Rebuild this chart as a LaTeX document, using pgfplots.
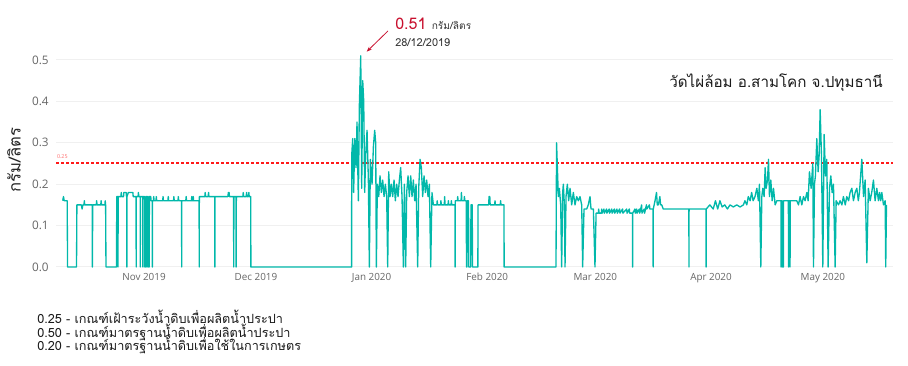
\documentclass[border=0pt]{standalone}
\usepackage{pgfplots}
\pgfplotsset{compat=1.18}
\usetikzlibrary{arrows.meta}
\usepackage{fontspec}
\setmainfont{Open Sans}
\newfontfamily\thaifont[Script=Thai]{Loma}
\definecolor{pbteal}{HTML}{01B8AA}
\definecolor{pbred}{HTML}{FF1A1A}
\definecolor{annred}{HTML}{C8102E}
\definecolor{tickgray}{HTML}{666666}
\begin{document}
\begin{tikzpicture}[x=1pt,y=1pt]
\path[use as bounding box] (0,0) rectangle (681,274.5);
\begin{axis}[
  at={(42pt,74.25pt)}, anchor=south west,
  scale only axis, width=627.75pt, height=161.5pt,
  xmin=-23.6, xmax=200.8, ymin=0, ymax=0.52,
  clip=false,
  axis line style={draw=none},
  major tick length=0pt,
  xtick={0,30,61,92,121,152,182},
  xticklabels={Nov 2019,Dec 2019,Jan 2020,Feb 2020,Mar 2020,Apr 2020,May 2020},
  ytick={0,0.1,0.2,0.3,0.4,0.5},
  /pgf/number format/assume math mode=true,
  ticklabel style={text=tickgray},
  xticklabel style={font=\fontsize{7.4}{8}\selectfont, yshift=-1pt},
  yticklabel style={font=\fontsize{8.8}{9}\selectfont, xshift=-2pt, /pgf/number format/.cd,fixed,fixed zerofill,precision=1},
  ymajorgrids,
  grid style={color=black!6, line width=0.75pt},
]
\addplot[pbred, line width=1.5pt, dash pattern=on 2.25pt off 1.5pt] coordinates {(-23.6,0.25) (200.8,0.25)};
\addplot[pbteal, line width=1pt, line join=round] table {
x y
-21.8 0.16
-21.6 0.17
-21.4 0.16
-20.6 0.16
-20.5 0
-18.1 0
-18.0 0.15
-16.8 0.15
-16.6 0.14
-16.4 0.15
-16.1 0.15
-16.0 0.16
-15.9 0.15
-13.9 0.15
-13.85 0
-13.75 0.15
-12.8 0.15
-12.7 0.16
-12.6 0.15
-11.6 0.15
-11.5 0.16
-11.4 0.15
-10.5 0.15
-10.4 0.16
-10.3 0.15
-10.2 0
-7.4 0
-7.3 0.17
-7.0 0.17
-6.97 0
-6.94 0.17
-6.2 0.17
-6.1 0.18
-6.0 0.17
-5.5 0.17
-5.4 0.18
-4.8 0.18
-4.7 0.17
-4.63 0.17
-4.6 0
-4.57 0.17
-4.2 0.18
-3.6 0.18
-3.0 0.18
-2.9 0.17
-2.13 0.17
-2.1 0
-2.07 0.17
-1.6 0.17
-1.5 0.18
-1.4 0.17
-1.03 0.17
-1.0 0
-0.97 0.17
-0.33 0.17
-0.3 0
-0.27 0.17
0.17 0.17
0.2 0
0.4 0
0.43 0.17
0.57 0.17
0.6 0
0.63 0.17
0.97 0.17
1.0 0
1.2 0
1.23 0.17
1.37 0.17
1.4 0
1.43 0.17
1.8 0.17
1.9 0.16
2.2 0.16
2.23 0
2.26 0.16
2.5 0.16
2.6 0.17
2.7 0.16
3.2 0.16
3.3 0.17
3.4 0.16
5.0 0.16
5.1 0.17
5.2 0.16
6.4 0.16
6.5 0.17
6.6 0.16
7.9 0.16
8.0 0.17
8.1 0.16
9.1 0.16
9.2 0.17
9.3 0.16
10.07 0.16
10.1 0
10.13 0.16
11.2 0.16
11.3 0.17
11.4 0.16
12.7 0.16
12.8 0.17
12.9 0.16
13.1 0.16
13.2 0.17
13.3 0.16
14.77 0.16
14.8 0
14.83 0.17
16.3 0.17
16.4 0.18
16.5 0.17
17.2 0.17
17.3 0.18
17.4 0.17
18.97 0.17
19.0 0
19.03 0.17
22.5 0.17
22.6 0.18
22.8 0.18
22.9 0.17
24.0 0.17
24.05 0
24.1 0.17
24.65 0.17
24.7 0
24.75 0.17
26.5 0.17
26.6 0.18
26.7 0.17
27.4 0.17
27.5 0.18
27.6 0.17
28.0 0.17
28.1 0.18
28.2 0.17
28.6 0.17
28.65 0
55.65 0
55.68 0.27
55.95 0.31
56.2 0.18
56.5 0.31
56.84 0.24
57.1 0.35
57.46 0.16
57.73 0.39
58.1 0.51
58.36 0.19
58.63 0.45
58.9 0.40
59.16 0.18
59.43 0.27
59.79 0.33
60.15 0.21
60.41 0
60.68 0.26
61.13 0.20
61.49 0.29
61.84 0.33
62.11 0.30
62.29 0
62.56 0.20
62.92 0.17
63.27 0.22
63.63 0.18
63.99 0.21
64.35 0.17
64.7 0.20
65.06 0.17
65.33 0
65.6 0.23
65.95 0.17
66.3 0.20
66.67 0.17
67.03 0.21
67.38 0.16
67.74 0.20
68.1 0.17
68.46 0.21
68.81 0.24
69.17 0.17
69.53 0
69.8 0.20
70.15 0
70.42 0.18
70.78 0.22
71.14 0.17
71.5 0.22
71.85 0.17
72.21 0.21
72.57 0.16
72.93 0.20
73.37 0
73.64 0.19
74.0 0.26
74.35 0.24
74.71 0.17
75.07 0.22
75.43 0.18
75.78 0.21
76.14 0.17
76.5 0.20
76.86 0
77.2 0.18
77.57 0.15
78.5 0.15
78.6 0.16
78.7 0.15
79.5 0.15
79.6 0.16
79.7 0.15
80.5 0.15
80.6 0.17
80.7 0.15
81.5 0.15
81.6 0.16
81.7 0.15
82.3 0.15
82.4 0.16
82.5 0.15
83.35 0.15
83.4 0
83.45 0.16
84.0 0.16
84.1 0.17
84.2 0.16
85.0 0.16
85.1 0.18
85.2 0.16
85.8 0.16
85.9 0.17
86.0 0.16
86.4 0.16
86.45 0
86.6 0
86.65 0.16
87.0 0.16
87.05 0
87.6 0
87.65 0.15
88.0 0.15
88.05 0
89.5 0
89.55 0.15
92.4 0.15
92.5 0.17
92.7 0.17
92.8 0.15
94.0 0.15
94.1 0.16
94.2 0.15
95.5 0.15
95.6 0.16
95.7 0.15
96.5 0.15
96.55 0
110.45 0
110.6 0.30
111.08 0.17
111.35 0.19
111.71 0.15
111.97 0
112.24 0.18
112.42 0.20
112.69 0.15
112.87 0
113.14 0.17
113.49 0.20
113.85 0.16
114.21 0.19
114.66 0.15
115.1 0.18
115.55 0.15
116.0 0.17
116.44 0.16
116.89 0.17
117.34 0.15
117.6 0
117.96 0.14
118.68 0.14
119.1 0.15
119.57 0.17
119.84 0.14
120.47 0.14
120.9 0
121.2 0.13
121.8 0.13
121.9 0.14
122.0 0.13
122.6 0.13
122.7 0.14
122.8 0.13
123.3 0.14
123.4 0.13
124.0 0.14
124.1 0.13
124.7 0.14
124.8 0.13
125.4 0.14
125.5 0.13
126.1 0.14
126.2 0.13
126.8 0.14
126.9 0.13
127.5 0.14
127.6 0.13
128.3 0.14
128.4 0.13
129.4 0.14
129.5 0.13
130.1 0.14
130.2 0.13
130.97 0.13
131.0 0
131.03 0.13
131.6 0.14
131.7 0.13
132.1 0.14
132.2 0.13
132.8 0.14
132.9 0.13
133.4 0.15
133.5 0.13
134.1 0.14
134.2 0.13
134.7 0.15
134.8 0.14
135.5 0.15
135.6 0.14
136.47 0.14
136.5 0
136.53 0.14
137.0 0.16
137.4 0.18
137.6 0.15
137.9 0.15
138.3 0.17
138.5 0.15
138.8 0.15
139.2 0.14
146.07 0.14
146.1 0
146.13 0.14
150.67 0.14
150.7 0
150.73 0.14
151.7 0.15
152.6 0.14
153.2 0.16
153.8 0.14
154.4 0.16
155.0 0.145
155.7 0.15
156.4 0.14
157.1 0.15
158.0 0.145
158.9 0.15
159.8 0.145
160.7 0.15
161.1 0.16
161.6 0.15
162.0 0.17
162.5 0.16
162.9 0.18
163.3 0.16
163.8 0.17
164.3 0.19
164.7 0.16
165.0 0.20
165.36 0
165.63 0.17
165.9 0.19
166.25 0.17
166.52 0.24
166.79 0.19
167.15 0.21
167.42 0.26
167.68 0.17
168.04 0.21
168.4 0.16
168.76 0.19
169.2 0.15
169.65 0.16
170.75 0.16
170.8 0
170.85 0.16
171.12 0.16
171.17 0
171.4 0
171.44 0.16
172.75 0.16
172.8 0
172.85 0.16
173.15 0.16
173.2 0
173.25 0.16
175.0 0.16
175.46 0.15
175.9 0.17
176.35 0.15
176.8 0.17
177.25 0.16
177.7 0.18
178.05 0.16
178.4 0.23
178.85 0.19
179.3 0.25
179.48 0
179.75 0.20
180.0 0.22
180.37 0.31
180.73 0.23
181.0 0.27
181.27 0.38
181.62 0.27
181.98 0
182.34 0.32
182.7 0.22
183.05 0.26
183.41 0
183.77 0.19
184.13 0.22
184.48 0.18
184.84 0.20
185.29 0
185.56 0.16
186.2 0.15
186.6 0.16
187.1 0.15
187.5 0.17
188.0 0.15
188.4 0.17
188.9 0.16
189.3 0.18
189.76 0.19
190.2 0.16
190.65 0.18
191.1 0.19
191.5 0.16
191.8 0.18
192.44 0.26
192.9 0.17
193.33 0.21
193.78 0.01
194.2 0.19
194.67 0.16
195.1 0.18
195.56 0.21
196.0 0.16
196.46 0.19
196.9 0.16
197.2 0.18
197.5 0.16
197.8 0.18
198.25 0.15
198.7 0.16
198.85 0
199.05 0.15
};
\node[font=\fontsize{4}{4}\selectfont, text=pbred!65, anchor=south west, inner sep=0pt] at (axis cs:-23.4,0.262) {0.25};
\draw[-{Stealth[length=4pt,width=3pt]}, annred, line width=0.6pt] (axis cs:65.4,0.57) -- (axis cs:59.7,0.52);
\end{axis}
\node[anchor=base west, inner sep=0pt, font=\thaifont] at (296.25,252) {\fontsize{12}{12}\selectfont\color{annred}0.51\ \fontsize{7.6}{8}\selectfont\color{black!80}กรัม/ลิตร};
\node[anchor=base west, inner sep=0pt, text=black!80, font=\thaifont\fontsize{8.2}{9}\selectfont] at (296.25,239.25) {28/12/2019};
\node[anchor=base east, inner sep=0pt, text=black!90, font=\thaifont\fontsize{11.4}{12}\selectfont] at (662.25,208.5) {วัดไผ่ล้อม อ.สามโคก จ.ปทุมธานี};
\node[rotate=90, inner sep=0pt, text=black!85, font=\thaifont\fontsize{12.5}{12.5}\selectfont] at (10.5,154.5) {กรัม/ลิตร};
\begin{scope}[every node/.style={anchor=base west, inner sep=0pt, text=black!90, font=\thaifont\fontsize{9.5}{10}\selectfont}]
\node at (27.75,31.5) {0.25 - เกณฑ์เฝ้าระวังน้ำดิบเพื่อผลิตน้ำประปา};
\node at (27.75,21.4) {0.50 - เกณฑ์มาตรฐานน้ำดิบเพื่อผลิตน้ำประปา};
\node at (27.75,11.3) {0.20 - เกณฑ์มาตรฐานน้ำดิบเพื่อใช้ในการเกษตร};
\end{scope}
\end{tikzpicture}
\end{document}
